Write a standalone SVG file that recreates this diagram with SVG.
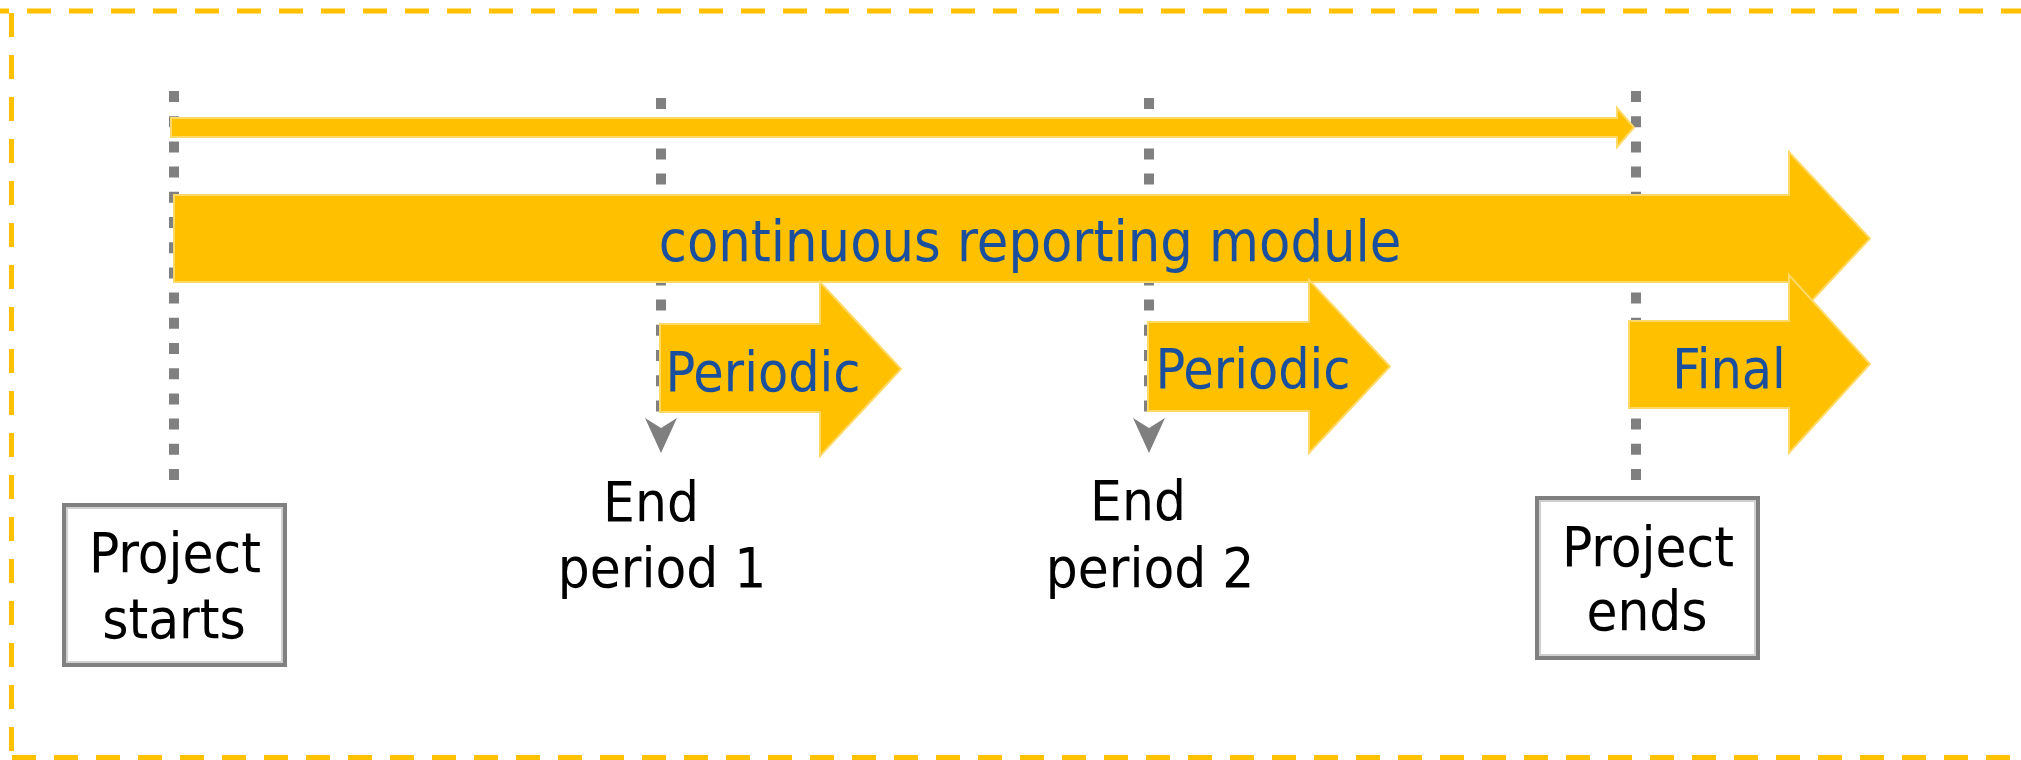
<svg xmlns="http://www.w3.org/2000/svg" width="2021" height="760" viewBox="0 0 2021 760">
<style>
.bd{stroke:#FFC000;stroke-width:5;stroke-dasharray:24 18;fill:none}
.dot{stroke:#808080;stroke-width:10;stroke-dasharray:11 14.2;fill:none}
.ah{fill:#7F7F7F}
.ya{fill:#FFC000;stroke:#FFD966;stroke-width:2;stroke-linejoin:miter}
.bt{font-family:'DejaVu Sans Condensed','DejaVu Sans',sans-serif;font-stretch:condensed;fill:#1A4F9E;text-anchor:middle}
.kt{font-family:'DejaVu Sans Condensed','DejaVu Sans',sans-serif;font-stretch:condensed;fill:#000;text-anchor:middle;font-size:56px}
.box{fill:#fff;stroke:#808080;stroke-width:4}
.boxin{fill:none;stroke:#D0D0D0;stroke-width:2}
</style>
<rect width="2021" height="760" fill="#fff"/>
<g id="frame">
<line class="bd" x1="-15" y1="11" x2="2040" y2="11"/>
<line class="bd" x1="11.5" y1="13" x2="11.5" y2="760"/>
<line class="bd" x1="12" y1="757.5" x2="2040" y2="757.5"/>
</g>
<g id="connectors">
<line class="dot" x1="174" y1="91" x2="174" y2="481"/>
<line class="dot" x1="661" y1="98" x2="661" y2="415"/>
<path class="ah" d="M645,418 L661,428 L677,418 L661,453 Z"/>
<line class="dot" x1="1149" y1="98" x2="1149" y2="415"/>
<path class="ah" d="M1133,418 L1149,428 L1165,418 L1149,453 Z"/>
<line class="dot" x1="1636" y1="91" x2="1636" y2="481"/>
<path id="timeline-arrow" class="ya" d="M171,118 H1617 V108 L1634,127.5 L1617,147 V137 H171 Z"/>
</g>
<g id="continuous">
<path class="ya" d="M174,195 H1789 V152 L1870,238.5 L1789,325 V282 H174 Z"/>
<text class="bt" x="1030" y="261" font-size="57">continuous reporting module</text>
</g>
<g id="final">
<path class="ya" d="M1629,321 H1789 V275 L1870,364 L1789,453 V408 H1629 Z"/>
<text class="bt" x="1729" y="388" font-size="55">Final</text>
</g>
<g id="periodic1">
<path class="ya" d="M660,324 H820 V282 L901,369 L820,456 V412 H660 Z"/>
<text class="bt" x="763" y="391" font-size="55">Periodic</text>
</g>
<g id="periodic2">
<path class="ya" d="M1148,322 H1309 V280 L1390,366.5 L1309,453 V411 H1148 Z"/>
<text class="bt" x="1253" y="388" font-size="55">Periodic</text>
</g>
<g id="project-starts">
<rect class="box" x="64" y="505" width="221" height="160"/>
<rect class="boxin" x="67" y="508" width="215" height="154"/>
<text class="kt" x="175" y="572">Project</text>
<text class="kt" x="174" y="638">starts</text>
</g>
<g id="end-period-1">
<text class="kt" x="651" y="521">End</text>
<text class="kt" x="662" y="587">period 1</text>
</g>
<g id="end-period-2">
<text class="kt" x="1138" y="520">End</text>
<text class="kt" x="1150" y="587">period 2</text>
</g>
<g id="project-ends">
<rect class="box" x="1537" y="498" width="221" height="160"/>
<rect class="boxin" x="1540" y="501" width="215" height="154"/>
<text class="kt" x="1648" y="566">Project</text>
<text class="kt" x="1647" y="630">ends</text>
</g>
</svg>
